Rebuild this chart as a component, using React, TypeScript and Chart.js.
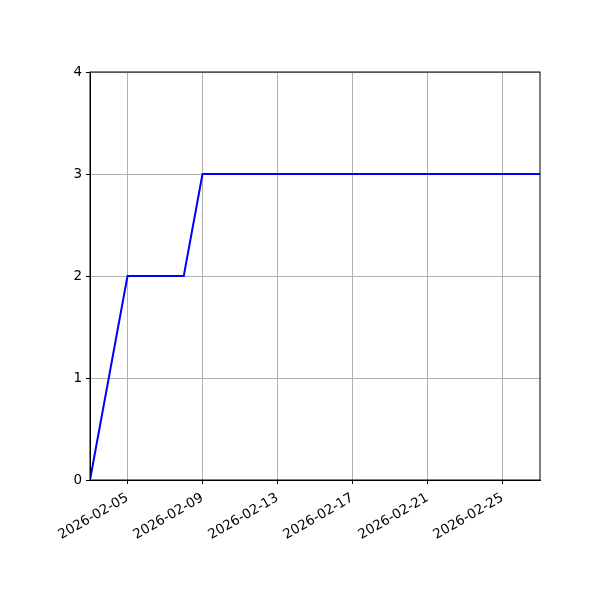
import React, { useEffect, useRef } from "react";
import { Chart, registerables } from "chart.js";

Chart.register(...registerables);

// data
const pointDates = ["2026-02-03", "2026-02-05", "2026-02-08", "2026-02-09", "2026-02-27"];
const pointValues = [0, 2, 2, 3, 3];
const tickDates = ["2026-02-05", "2026-02-09", "2026-02-13", "2026-02-17", "2026-02-21", "2026-02-25"];
const yTicks = [0, 1, 2, 3, 4];
const startDate = "2026-02-03";
const endDate = "2026-02-27";

const DAY = 86400000;
const dayIndex = (d: string) => (Date.parse(d + "T00:00:00Z") - Date.parse(startDate + "T00:00:00Z")) / DAY;
const dayLabel = (n: number) => new Date(Date.parse(startDate + "T00:00:00Z") + n * DAY).toISOString().slice(0, 10);

const frame = {
    id: "frame",
    afterDatasetsDraw(chart: Chart) {
        const { ctx, chartArea } = chart;
        ctx.save();
        ctx.strokeStyle = "#000";
        ctx.lineWidth = 1;
        ctx.strokeRect(chartArea.left, chartArea.top, chartArea.right - chartArea.left, chartArea.bottom - chartArea.top);
        ctx.restore();
    },
};

const App: React.FC = () => {
    const canvasRef = useRef<HTMLCanvasElement | null>(null);
    const chartRef = useRef<Chart | null>(null);

    useEffect(() => {
        document.body.style.margin = "0";
        if (chartRef.current) chartRef.current.destroy();
        if (!canvasRef.current) return;

        const font = { family: "DejaVu Sans", size: 13.5 };

        chartRef.current = new Chart(canvasRef.current, {
            type: "line",
            data: {
                datasets: [
                    {
                        data: pointDates.map((d, i) => ({ x: dayIndex(d), y: pointValues[i] })),
                        borderColor: "#0000ff",
                        borderWidth: 2,
                        pointRadius: 0,
                        tension: 0,
                        fill: false,
                    },
                ],
            },
            options: {
                responsive: false,
                animation: false,
                devicePixelRatio: 1,
                layout: { padding: { top: 72, right: 60, left: 0, bottom: 0 } },
                plugins: { legend: { display: false }, tooltip: { enabled: false } },
                scales: {
                    x: {
                        type: "linear",
                        min: 0,
                        max: dayIndex(endDate),
                        afterBuildTicks: (scale: any) => {
                            scale.ticks = tickDates.map((d) => ({ value: dayIndex(d) }));
                        },
                        afterFit: (scale: any) => {
                            scale.height = 120;
                        },
                        ticks: {
                            color: "#000",
                            font,
                            minRotation: 30,
                            maxRotation: 30,
                            padding: 6,
                            callback: (v: any) => dayLabel(Number(v)),
                        },
                        grid: { color: "#b0b0b0", lineWidth: 1, tickColor: "#000", tickLength: 4 },
                        border: { color: "#000", width: 1 },
                    },
                    y: {
                        min: 0,
                        max: 4,
                        afterBuildTicks: (scale: any) => {
                            scale.ticks = yTicks.map((v) => ({ value: v }));
                        },
                        afterFit: (scale: any) => {
                            scale.width = 90;
                        },
                        ticks: { color: "#000", font, padding: 4 },
                        grid: { color: "#b0b0b0", lineWidth: 1, tickColor: "#000", tickLength: 4 },
                        border: { color: "#000", width: 1 },
                    },
                },
            },
            plugins: [frame],
        });

        return () => {
            if (chartRef.current) chartRef.current.destroy();
        };
    }, []);

    return <canvas ref={canvasRef} width={600} height={600} style={{ display: "block" }} />;
};

export default App;
